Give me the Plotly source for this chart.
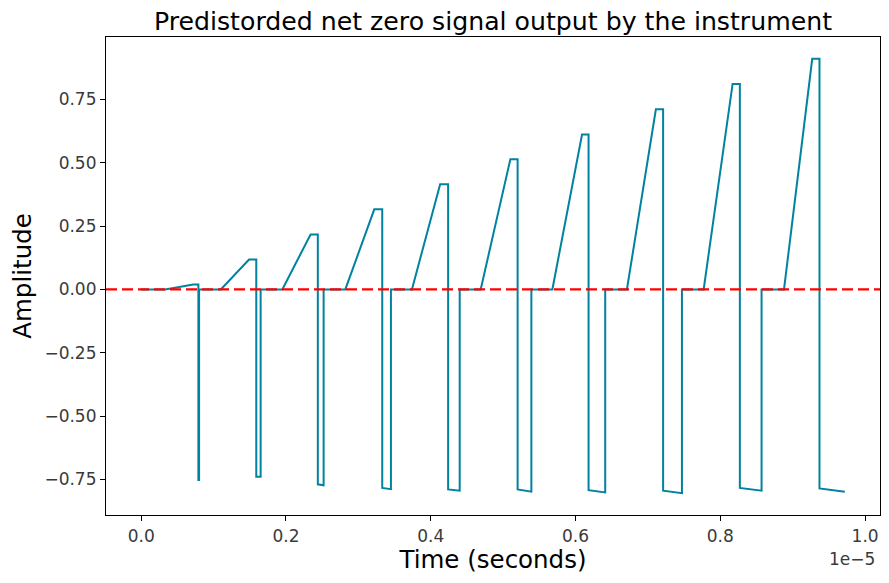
import numpy as np
import plotly.graph_objects as go

# pulse parameters (times in units of 1e-5 s)
ramp_start = [0.033, 0.110, 0.195, 0.282, 0.374, 0.469, 0.568, 0.671, 0.777, 0.888]
peak_time = [0.072, 0.149, 0.234, 0.322, 0.413, 0.510, 0.609, 0.711, 0.817, 0.927]
hold_end = [0.079, 0.159, 0.244, 0.333, 0.424, 0.520, 0.618, 0.721, 0.827, 0.937]
neg_end = [0.080, 0.165, 0.252, 0.345, 0.440, 0.539, 0.641, 0.747, 0.857, 0.972]
peak_amp = [0.019, 0.118, 0.217, 0.316, 0.415, 0.514, 0.611, 0.711, 0.811, 0.910]
neg_amp_start = [-0.752, -0.739, -0.769, -0.783, -0.789, -0.789, -0.792, -0.794, -0.783, -0.785]
neg_amp_end = [-0.752, -0.739, -0.773, -0.788, -0.794, -0.798, -0.801, -0.804, -0.794, -0.798]

x_ticks = [0.0, 0.2, 0.4, 0.6, 0.8, 1.0]
x_tick_labels = ["0.0", "0.2", "0.4", "0.6", "0.8", "1.0"]
y_ticks = [-0.75, -0.5, -0.25, 0.0, 0.25, 0.5, 0.75]
y_tick_labels = ["\u22120.75", "\u22120.50", "\u22120.25", "0.00", "0.25", "0.50", "0.75"]

# build the waveform polyline
t = [0.0]
amp = [0.0]
n = len(ramp_start)
for i in range(n):
    t += [ramp_start[i], peak_time[i], hold_end[i], hold_end[i], neg_end[i]]
    amp += [0.0, peak_amp[i], peak_amp[i], neg_amp_start[i], neg_amp_end[i]]
    if i < n - 1:
        t.append(neg_end[i])
        amp.append(0.0)

t = np.array(t) * 1e-5
amp = np.array(amp)

FONT = "DejaVu Sans"
# the page body has an 8px margin, so the figure is sized to sit inside the window
W, H = 873, 567

fig = go.Figure()
fig.add_trace(go.Scatter(
    x=t, y=amp, mode="lines",
    line=dict(color="#0082a0", width=2),
    hoverinfo="skip", showlegend=False,
))

# red dashed zero line across the axes
fig.add_shape(
    type="line", xref="paper", yref="y", x0=0, x1=1, y0=0, y1=0,
    line=dict(color="#ff0000", width=2.2, dash="11px,5px"), layer="above",
)

# offset label of the x axis
fig.add_annotation(
    text="1e\u22125", xref="paper", yref="paper", x=1.0, xshift=-3,
    y=-(559 - 515) / 478, xanchor="right", yanchor="middle", showarrow=False,
    font=dict(family=FONT, size=17, color="#3a3a3a"),
)

axis_common = dict(
    showgrid=False, zeroline=False, showline=True, linecolor="black", linewidth=1.2,
    mirror=True, ticks="outside", ticklen=5, tickwidth=1.2, tickcolor="black",
    tickfont=dict(family=FONT, size=17, color="#3a3a3a"),
)

fig.update_xaxes(
    range=[-0.0486e-5, 1.0206e-5], tickvals=[v * 1e-5 for v in x_ticks], ticktext=x_tick_labels,
    title=dict(text="Time (seconds)", font=dict(family=FONT, size=24.5, color="black"), standoff=4),
    **axis_common,
)
fig.update_yaxes(
    range=[-0.890, 0.996], tickvals=y_ticks, ticktext=y_tick_labels,
    title=dict(text="Amplitude", font=dict(family=FONT, size=24.5, color="black"), standoff=8),
    **axis_common,
)

fig.update_layout(
    width=W, height=H,
    margin=dict(l=98, r=1, t=29, b=60, autoexpand=False),
    paper_bgcolor="white", plot_bgcolor="white",
    title=dict(
        text="Predistorded net zero signal output by the instrument",
        font=dict(family=FONT, size=25.2, color="black"),
        x=0.5, xref="paper", xanchor="center",
        y=1 - 13 / H, yref="container", yanchor="middle",
    ),
)

fig.write_html("out.html")
